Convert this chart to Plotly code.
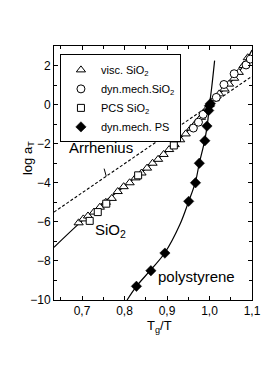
import plotly.graph_objects as go

# ---- data ----
visc_x = [0.692, 0.703, 0.714, 0.728, 0.742, 0.756, 0.770, 0.784, 0.798, 0.812, 0.826,
          0.840, 0.853, 0.866, 0.879, 0.892, 0.905, 0.918, 0.931, 0.944, 0.957, 0.968,
          0.980, 0.991, 1.000, 1.012, 1.023, 1.035, 1.046, 1.058, 1.069, 1.080, 1.090]
visc_y = [-6.05, -5.85, -5.70, -5.50, -5.25, -5.00, -4.80, -4.45, -4.20, -4.00, -3.75,
          -3.50, -3.25, -3.00, -2.80, -2.55, -2.30, -2.05, -1.80, -1.50, -1.20, -0.95,
          -0.65, -0.30, 0.00, 0.30, 0.55, 0.80, 1.05, 1.35, 1.65, 2.00, 2.40]

dmsio_x = [0.962, 0.974, 0.985, 1.016, 1.034, 1.058, 1.086, 1.096]
dmsio_y = [-1.20, -0.90, -0.50, 0.37, 1.03, 1.58, 2.03, 2.33]

pcs_x = [0.718, 0.737, 0.757, 0.832, 0.916]
pcs_y = [-5.95, -5.50, -5.07, -3.62, -2.09]

ps_x = [0.828, 0.862, 0.895, 0.951, 0.967, 0.976, 0.989, 0.994, 0.998, 1.000, 1.002]
ps_y = [-9.30, -8.50, -7.60, -4.95, -4.00, -3.00, -1.85, -1.10, -0.30, -0.05, 0.05]

# fitted curves
sio2_fit_x = [0.634, 0.700, 0.750, 0.800, 0.850, 0.900, 0.950, 1.000, 1.050, 1.075, 1.100]
sio2_fit_y = [-7.30, -5.95, -5.02, -4.18, -3.28, -2.38, -1.30, 0.00, 1.15, 1.85, 2.80]

ps_fit_x = [0.806, 0.828, 0.862, 0.895, 0.930, 0.951, 0.967, 0.976, 0.989, 0.995, 1.000, 1.005, 1.012]
ps_fit_y = [-10.0, -9.30, -8.45, -7.58, -6.15, -4.95, -3.95, -3.00, -1.80, -1.00, 0.00, 0.85, 2.25]

arr_x = [0.634, 1.100]
arr_y = [-5.50, 1.45]

x_ticks = [0.7, 0.8, 0.9, 1.0, 1.1]
x_tick_text = ["0,7", "0,8", "0,9", "1,0", "1,1"]
y_ticks = [-10, -8, -6, -4, -2, 0, 2]

FONT = "Liberation Sans, Arial, sans-serif"

fig = go.Figure()

fig.add_trace(go.Scatter(x=arr_x, y=arr_y, mode="lines", showlegend=False,
                         line=dict(color="black", width=1.1, dash="3px,2px")))
fig.add_trace(go.Scatter(x=sio2_fit_x, y=sio2_fit_y, mode="lines", showlegend=False,
                         line=dict(color="black", width=1.2, shape="spline")))
fig.add_trace(go.Scatter(x=ps_fit_x, y=ps_fit_y, mode="lines", showlegend=False,
                         line=dict(color="black", width=1.2, shape="spline")))

fig.add_trace(go.Scatter(x=visc_x, y=visc_y, mode="markers", name="visc. SiO<sub>2</sub>",
                         marker=dict(symbol="triangle-up", size=8, color="white",
                                     line=dict(color="black", width=1))))
fig.add_trace(go.Scatter(x=dmsio_x, y=dmsio_y, mode="markers", name="dyn.mech.SiO<sub>2</sub>",
                         marker=dict(symbol="circle", size=8, color="white",
                                     line=dict(color="black", width=1))))
fig.add_trace(go.Scatter(x=pcs_x, y=pcs_y, mode="markers", name="PCS SiO<sub>2</sub>",
                         marker=dict(symbol="square", size=7, color="white",
                                     line=dict(color="black", width=1))))
fig.add_trace(go.Scatter(x=ps_x, y=ps_y, mode="markers", name="dyn.mech. PS",
                         marker=dict(symbol="diamond", size=8, color="black",
                                     line=dict(color="black", width=0.5))))

axis_common = dict(showline=True, linecolor="black", linewidth=1, mirror="ticks",
                   ticks="inside", ticklen=4, tickcolor="black", tickwidth=1,
                   showgrid=False, zeroline=False,
                   tickfont=dict(family=FONT, size=12, color="black"))

fig.update_xaxes(range=[0.634, 1.1], tickvals=x_ticks, ticktext=x_tick_text,
                 minor=dict(dtick=0.05, tick0=0.65, ticks="inside", ticklen=3,
                            tickcolor="black", showgrid=False),
                 **axis_common)
fig.update_yaxes(range=[-10, 3.0], tickvals=y_ticks,
                 minor=dict(dtick=1, tick0=0, ticks="inside", ticklen=3,
                            tickcolor="black", showgrid=False),
                 **axis_common)

fig.add_annotation(text="Arrhenius", x=0.7435, y=-2.2, xref="x", yref="y",
                   showarrow=False, font=dict(family=FONT, size=15, color="black"))
fig.add_annotation(text="", x=0.757, y=-3.67, ax=0.751, ay=-3.2, xref="x", yref="y",
                   axref="x", ayref="y", showarrow=True, arrowhead=0, arrowwidth=1,
                   arrowcolor="black")
fig.add_annotation(text="SiO<sub>2</sub>", x=0.768, y=-6.45, xref="x", yref="y",
                   showarrow=False, font=dict(family=FONT, size=15, color="black"))
fig.add_annotation(text="polystyrene", x=0.97, y=-8.8, xref="x", yref="y",
                   showarrow=False, font=dict(family=FONT, size=15, color="black"))

fig.add_annotation(text="log a<sub>T</sub>", x=-0.183, y=0.56, xref="paper", yref="paper",
                   textangle=-90, showarrow=False,
                   font=dict(family=FONT, size=13, color="black"))
fig.add_annotation(text="T<sub>g</sub>/T", x=0.535, y=-0.145, xref="paper", yref="paper",
                   showarrow=False, font=dict(family=FONT, size=13, color="black"))

# the page body has an 8px default margin, so the figure is drawn 8px smaller
fig.update_layout(
    width=265, height=383,
    margin=dict(l=46, r=15, t=38, b=91),
    plot_bgcolor="white", paper_bgcolor="white",
    font=dict(family=FONT, color="black"),
    legend=dict(x=0.03, y=0.967, xanchor="left", yanchor="top",
                bordercolor="black", borderwidth=1, bgcolor="white",
                font=dict(family=FONT, size=11, color="black"),
                tracegroupgap=0, itemwidth=30),
)

fig.write_html("out.html")
